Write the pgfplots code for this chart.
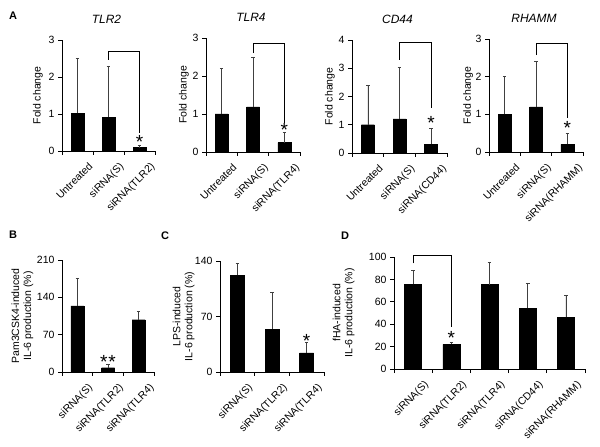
\documentclass[border=0pt]{standalone}
\usepackage{fontspec}
\setmainfont{Liberation Sans}
\usepackage{pgfplots}
\pgfplotsset{compat=1.18}
\pgfplotsset{
  panel/.style={
    scale only axis,
    anchor=south west,
    axis x line=bottom, axis y line=left,
    axis line style={-, line width=0.8pt, black},
    tick align=outside,
    major tick length=4pt,
    minor tick length=4pt,
    tick style={black, line width=0.8pt},
    major x tick style={draw=none},
    ymin=0, xmin=-0.5,
    clip=false,
    /pgf/number format/assume math mode=true,
    tick label style={font=\fontsize{10.5}{12}\selectfont},
    xticklabel style={rotate=45, anchor=north east, inner sep=1pt, yshift=-11pt, xshift=3.5pt},
    label style={font=\fontsize{10.5}{12}\selectfont},
    ylabel style={anchor=center, align=center},
    title style={at={(axis description cs:0.5,1)}, anchor=base, yshift=10.5pt, xshift=-2pt,
      font=\fontsize{12}{14}\selectfont\itshape},
  },
  three/.style={xmax=2.5, xtick={0,1,2}, minor xtick={-0.5,0.5,1.5,2.5}},
  five/.style={xmax=4.5, xtick={0,1,2,3,4}, minor xtick={-0.5,0.5,1.5,2.5,3.5,4.5}},
  barstyle/.style={ybar, bar width=#1, fill=black, draw=black,
    error bars/.cd, y dir=plus, y explicit,
    error bar style={line width=0.6pt, black!75},
    error mark options={line width=0.6pt, black!75, mark size=1.8pt, rotate=90}},
}
\newcommand{\sigstar}{\fontsize{19}{19}\selectfont *}
\begin{document}
\begin{tikzpicture}
\useasboundingbox (0,0) rectangle (600pt,447pt);
\node[font=\bfseries\fontsize{11}{12}\selectfont] at (13pt,431pt) {A};
\node[font=\bfseries\fontsize{11}{12}\selectfont] at (13pt,212pt) {B};
\node[font=\bfseries\fontsize{11}{12}\selectfont] at (165pt,211pt) {C};
\node[font=\bfseries\fontsize{11}{12}\selectfont] at (345pt,211pt) {D};

% TLR2
\begin{axis}[panel, three, at={(62pt,296pt)}, width=93pt, height=111pt,
  ymax=3, ytick={0,1,2,3}, title={TLR2}, ylabel={Fold change},
  ylabel style={at={(axis description cs:-0.258,0.5)}},
  xticklabels={Untreated, siRNA(S), siRNA(TLR2)}]
\addplot[barstyle=13pt] coordinates {(0,1.02) +- (0,1.48) (1,0.91) +- (0,1.39) (2,0.09) +- (0,0.07)};
\draw[line width=0.8pt] (axis cs:1,2.46) |- (axis cs:2,2.7) -- (axis cs:2,0.49);
\node at (axis cs:2,0.25) {\sigstar};
\end{axis}

% TLR4
\begin{axis}[panel, three, at={(206pt,295pt)}, width=94pt, height=114pt,
  ymax=3, ytick={0,1,2,3}, title={TLR4}, ylabel={Fold change},
  ylabel style={at={(axis description cs:-0.234,0.5)}},
  xticklabels={Untreated, siRNA(S), siRNA(TLR4)}]
\addplot[barstyle=13pt] coordinates {(0,1.0) +- (0,1.2) (1,1.19) +- (0,1.31) (2,0.245) +- (0,0.275)};
\draw[line width=0.8pt] (axis cs:1,2.6) |- (axis cs:2,2.87) -- (axis cs:2,0.76);
\node at (axis cs:2,0.57) {\sigstar};
\end{axis}

% CD44
\begin{axis}[panel, three, at={(352pt,294pt)}, width=95pt, height=113pt,
  ymax=4, ytick={0,1,2,3,4}, title={CD44}, ylabel={Fold change},
  ylabel style={at={(axis description cs:-0.232,0.5)}},
  xticklabels={Untreated, siRNA(S), siRNA(CD44)}]
\addplot[barstyle=13pt] coordinates {(0,1.0) +- (0,1.41) (1,1.21) +- (0,1.84) (2,0.31) +- (0,0.56)};
\draw[line width=0.8pt] (axis cs:1,3.3) |- (axis cs:2,3.93) -- (axis cs:2,1.6);
\node at (axis cs:2,1.08) {\sigstar};
\end{axis}

% RHAMM
\begin{axis}[panel, three, at={(489pt,295pt)}, width=94pt, height=113pt,
  ymax=3, ytick={0,1,2,3}, title={RHAMM}, ylabel={Fold change},
  ylabel style={at={(axis description cs:-0.223,0.5)}},
  xticklabels={Untreated, siRNA(S), siRNA(RHAMM)}]
\addplot[barstyle=13pt] coordinates {(0,1.0) +- (0,1.0) (1,1.2) +- (0,1.2) (2,0.2) +- (0,0.3)};
\draw[line width=0.8pt] (axis cs:1,2.57) |- (axis cs:2,2.89) -- (axis cs:2,0.9);
\node at (axis cs:2,0.65) {\sigstar};
\end{axis}

% B
\begin{axis}[panel, three, at={(62pt,75pt)}, width=92pt, height=112pt,
  ymax=210, ytick={0,70,140,210},
  ylabel={Pam3CSK4-induced\\IL-6 production (\%)},
  ylabel style={at={(axis description cs:-0.43,0.5)}},
  xticklabels={siRNA(S), siRNA(TLR2), siRNA(TLR4)}]
\addplot[barstyle=13pt] coordinates {(0,124) +- (0,52) (1,8) +- (0,6) (2,98) +- (0,16)};
\node at (axis cs:1,19) {\sigstar\kern1pt\sigstar};
\end{axis}

% C
\begin{axis}[panel, three, at={(220pt,75pt)}, width=104pt, height=111pt,
  ymax=140, ytick={0,70,140},
  ylabel={LPS-induced\\IL-6 production (\%)},
  ylabel style={at={(axis description cs:-0.35,0.5)}},
  xticklabels={siRNA(S), siRNA(TLR2), siRNA(TLR4)}]
\addplot[barstyle=14pt] coordinates {(0,122) +- (0,15) (1,54) +- (0,46) (2,24) +- (0,13)};
\node at (axis cs:2,39) {\sigstar};
\end{axis}

% D
\begin{axis}[panel, five, at={(394pt,78pt)}, width=191pt, height=112pt,
  ymax=100, ytick={0,20,40,60,80,100},
  ylabel={fHA-induced\\IL-6 production (\%)},
  ylabel style={at={(axis description cs:-0.264,0.5)}},
  xticklabels={siRNA(S), siRNA(TLR2), siRNA(TLR4), siRNA(CD44), siRNA(RHAMM)}]
\addplot[barstyle=17pt] coordinates {(0,75.6) +- (0,12.2) (1,22) +- (0,1.5) (2,75.3) +- (0,19.6) (3,54.2) +- (0,22.3) (4,46) +- (0,19.4)};
\draw[line width=0.8pt] (axis cs:0,94.4) |- (axis cs:1,101) -- (axis cs:1,37.8);
\node at (axis cs:1,28) {\sigstar};
\end{axis}
\end{tikzpicture}
\end{document}
